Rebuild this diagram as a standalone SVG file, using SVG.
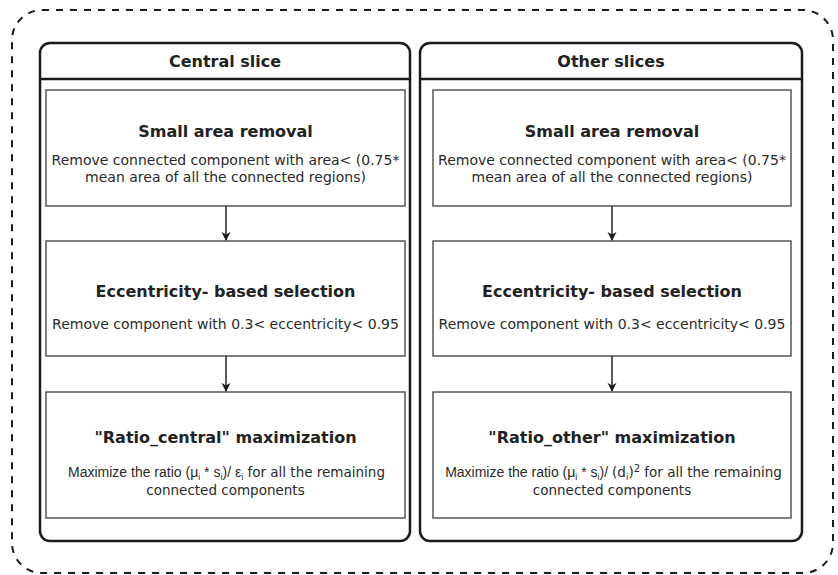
<svg xmlns="http://www.w3.org/2000/svg" width="838" height="575" viewBox="0 0 838 575">
<style>
.outer{fill:none;stroke:#1a1a1a;stroke-width:2;stroke-dasharray:7 7}
.panel{fill:#fff;stroke:#1a1a1a;stroke-width:2.5}
.hdr{stroke:#1a1a1a;stroke-width:2.5}
.box{fill:#fff;stroke:#555;stroke-width:1.5}
.title{font-family:"DejaVu Sans",Verdana,sans-serif;font-weight:bold;font-size:16px;fill:#222;text-anchor:middle}
.body{font-family:"DejaVu Sans",Verdana,sans-serif;font-size:14px;fill:#2a2a2a;text-anchor:middle}
.body2{font-family:"DejaVu Sans",Verdana,sans-serif;font-size:13.5px;fill:#2a2a2a;text-anchor:middle}
.ar{font-family:"Liberation Sans",Arial,sans-serif;font-size:14px}
.sub{font-size:9px}
.conn{stroke:#333;stroke-width:1.6;fill:none;marker-end:url(#arr)}
</style>
<defs>
<marker id="arr" viewBox="0 0 10 10" refX="9" refY="5" markerWidth="9" markerHeight="10" markerUnits="userSpaceOnUse" orient="auto">
<path d="M0,0 L10,5 L0,10 L3,5 z" fill="#1a1a1a"/>
</marker>
</defs>
<rect x="12" y="10" width="821" height="563" rx="30" ry="30" class="outer"/>

<g id="panel-central">
<rect x="40" y="43" width="370" height="498" rx="10" ry="10" class="panel"/>
<line x1="40" y1="79" x2="410" y2="79" class="hdr"/>
<text x="225" y="67" class="title">Central slice</text>
</g>
<g id="panel-other">
<rect x="420" y="43" width="382" height="498" rx="10" ry="10" class="panel"/>
<line x1="420" y1="79" x2="802" y2="79" class="hdr"/>
<text x="611" y="67" class="title">Other slices</text>
</g>

<g id="c-small">
<rect x="46" y="90" width="359" height="116" class="box"/>
<text x="225.5" y="137" class="title">Small area removal</text>
<text x="225.5" y="165" class="body">Remove connected component with area&lt; (0.75*</text>
<text x="225.5" y="182" class="body">mean area of all the connected regions)</text>
</g>
<g id="c-ecc">
<rect x="46" y="241" width="359" height="115" class="box"/>
<text x="225.5" y="297" class="title">Eccentricity- based selection</text>
<text x="225.5" y="329" class="body">Remove component with 0.3&lt; eccentricity&lt; 0.95</text>
</g>
<g id="c-ratio">
<rect x="46" y="392" width="359" height="126" class="box"/>
<text x="225.5" y="443" class="title">"Ratio_central" maximization</text>
<text x="226.5" y="477" class="body2"><tspan class="ar">Maximize the ratio (μ<tspan class="sub" dy="3">i</tspan><tspan dy="-3"> * s</tspan><tspan class="sub" dy="3">i</tspan><tspan dy="-3">)/ ε</tspan><tspan class="sub" dy="3">i</tspan></tspan><tspan dy="-3"> for all the remaining</tspan></text>
<text x="225.5" y="495" class="body2">connected components</text>
</g>

<g id="o-small">
<rect x="433" y="90" width="358" height="116" class="box"/>
<text x="612" y="137" class="title">Small area removal</text>
<text x="612" y="165" class="body">Remove connected component with area&lt; (0.75*</text>
<text x="612" y="182" class="body">mean area of all the connected regions)</text>
</g>
<g id="o-ecc">
<rect x="433" y="241" width="358" height="115" class="box"/>
<text x="612" y="297" class="title">Eccentricity- based selection</text>
<text x="612" y="329" class="body">Remove component with 0.3&lt; eccentricity&lt; 0.95</text>
</g>
<g id="o-ratio">
<rect x="433" y="392" width="358" height="126" class="box"/>
<text x="612" y="443" class="title">"Ratio_other" maximization</text>
<text x="613.5" y="477" class="body2"><tspan class="ar">Maximize the ratio (μ<tspan class="sub" dy="3">i</tspan><tspan dy="-3"> * s</tspan><tspan class="sub" dy="3">i</tspan><tspan dy="-3">)/ </tspan></tspan>(d<tspan class="sub" dy="3">i</tspan><tspan dy="-3">)</tspan><tspan class="sub" dy="-5" style="font-size:10px">2</tspan><tspan dy="5"> for all the remaining</tspan></text>
<text x="612" y="495" class="body2">connected components</text>
</g>

<g id="connectors">
<line x1="226" y1="206" x2="226" y2="240" class="conn"/>
<line x1="226" y1="356" x2="226" y2="391" class="conn"/>
<line x1="612" y1="206" x2="612" y2="240" class="conn"/>
<line x1="612" y1="356" x2="612" y2="391" class="conn"/>
</g>
</svg>
